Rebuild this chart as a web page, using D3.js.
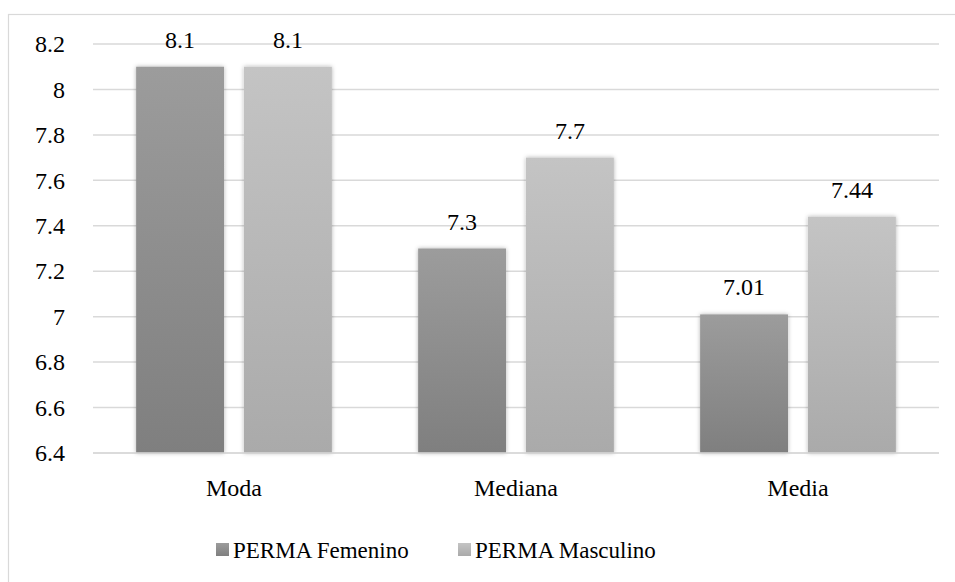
<!DOCTYPE html>
<html>
<head>
<meta charset="utf-8">
<script src="https://cdn.jsdelivr.net/npm/d3@7"></script>
<style>
  body { margin: 0; background: #fff; }
</style>
</head>
<body>
<div id="container"></div>
<script>
/* DATA */
const categories = ["Moda", "Mediana", "Media"];
const seriesNames = ["PERMA Femenino", "PERMA Masculino"];
const femenino = [8.1, 7.3, 7.01];
const masculino = [8.1, 7.7, 7.44];
const yTicks = [6.4, 6.6, 6.8, 7, 7.2, 7.4, 7.6, 7.8, 8, 8.2];

/* CONSTANTS */
const width = 955;
const height = 582;
const margin = {top: 44, bottom: 129, left: 93, right: 16};
const FONT = "Liberation Serif";

const data = categories.map((c, i) => ({cat: c, values: [femenino[i], masculino[i]]}));

/* SCALES */
const xScale = d3.scaleBand()
  .domain(categories)
  .range([margin.left, width - margin.right])
  .paddingInner(0).paddingOuter(0);

const xInner = d3.scaleBand()
  .domain(seriesNames)
  .range([0, xScale.bandwidth()])
  .paddingInner(0.185)
  .paddingOuter(0.4);

const yScale = d3.scaleLinear()
  .domain([6.4, 8.2])
  .range([height - margin.bottom, margin.top]);

/* SVG */
const svg = d3.select("#container")
  .append("svg")
  .attr("width", width)
  .attr("height", height)
  .attr("font-family", FONT);

const defs = svg.append("defs");
const grads = [["#9c9c9c", "#7f7f7f"], ["#c4c4c4", "#aaaaaa"]];
grads.forEach((g, i) => {
  const lg = defs.append("linearGradient")
    .attr("id", "grad" + i)
    .attr("x1", 0).attr("y1", 0).attr("x2", 0).attr("y2", 1);
  lg.append("stop").attr("offset", "0%").attr("stop-color", g[0]);
  lg.append("stop").attr("offset", "100%").attr("stop-color", g[1]);
});
const shadow = defs.append("filter").attr("id", "shadow")
  .attr("x", "-20%").attr("y", "-20%").attr("width", "140%").attr("height", "140%");
shadow.append("feDropShadow")
  .attr("dx", 0).attr("dy", 0).attr("stdDeviation", 2)
  .attr("flood-color", "#000").attr("flood-opacity", 0.3);

// chart border (right and bottom edges fall outside the picture)
svg.append("rect")
  .attr("x", 8.5).attr("y", 14.5)
  .attr("width", 960).attr("height", 580)
  .attr("fill", "none")
  .attr("stroke", "#d9d9d9")
  .attr("stroke-width", 1.2);

// gridlines
svg.append("g")
  .selectAll("line")
  .data(yTicks)
  .join("line")
  .attr("x1", margin.left)
  .attr("x2", width - margin.right)
  .attr("y1", d => yScale(d))
  .attr("y2", d => yScale(d))
  .attr("stroke", "#d9d9d9")
  .attr("stroke-width", 1.5);

// y axis labels
const yAxis = d3.axisLeft(yScale)
  .tickValues(yTicks)
  .tickSize(0)
  .tickPadding(0)
  .tickFormat(d => d3.format("~g")(d));

svg.append("g")
  .attr("transform", `translate(${margin.left - 28}, 0)`)
  .call(yAxis)
  .attr("font-family", FONT)
  .attr("font-size", 24)
  .call(g => g.select(".domain").remove())
  .selectAll("text")
  .attr("fill", "#000");

// bars
const groups = svg.append("g")
  .selectAll("g")
  .data(data)
  .join("g")
  .attr("transform", d => `translate(${xScale(d.cat)}, 0)`);

groups.selectAll("rect")
  .data(d => d.values.map((v, i) => ({name: seriesNames[i], v, i})))
  .join("rect")
  .attr("x", d => xInner(d.name))
  .attr("width", xInner.bandwidth())
  .attr("y", d => yScale(d.v))
  .attr("height", d => yScale(6.4) - yScale(d.v))
  .attr("fill", d => `url(#grad${d.i})`)
  .attr("filter", "url(#shadow)");

groups.selectAll("text.val")
  .data(d => d.values.map((v, i) => ({name: seriesNames[i], v, i})))
  .join("text")
  .attr("class", "val")
  .attr("x", d => xInner(d.name) + xInner.bandwidth() / 2)
  .attr("y", d => yScale(d.v) - 19)
  .attr("text-anchor", "middle")
  .attr("font-size", 24)
  .attr("fill", "#000")
  .text(d => d.v);

// x axis line
svg.append("line")
  .attr("x1", margin.left).attr("x2", width - margin.right)
  .attr("y1", yScale(6.4)).attr("y2", yScale(6.4))
  .attr("stroke", "#d9d9d9").attr("stroke-width", 1.5);

// category labels
const xAxis = d3.axisBottom(xScale).tickSize(0).tickPadding(0);
svg.append("g")
  .attr("transform", `translate(0, ${yScale(6.4) + 26})`)
  .call(xAxis)
  .attr("font-family", FONT)
  .attr("font-size", 24)
  .call(g => g.select(".domain").remove())
  .selectAll("text")
  .attr("fill", "#000");

// legend
const legendX = [216, 458];
const legend = svg.append("g");
seriesNames.forEach((name, i) => {
  legend.append("rect")
    .attr("x", legendX[i]).attr("y", 543)
    .attr("width", 13).attr("height", 13)
    .attr("fill", `url(#grad${i})`);
  legend.append("text")
    .attr("x", legendX[i] + 17)
    .attr("y", 558)
    .attr("font-size", 23)
    .attr("fill", "#000")
    .text(name);
});
</script>
</body>
</html>
